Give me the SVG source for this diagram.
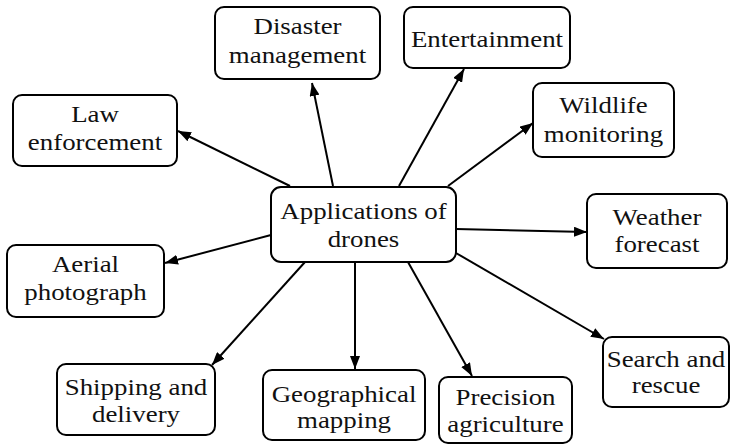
<svg xmlns="http://www.w3.org/2000/svg" width="732" height="445" viewBox="0 0 732 445">
<style>
.box{fill:#fff;stroke:#000;stroke-width:2}
.t{font-family:"Liberation Serif","Times New Roman",serif;font-size:24px;fill:#111;text-anchor:middle}
.c line{stroke:#000;stroke-width:2;marker-end:url(#ah)}
</style>
<defs>
<marker id="ah" markerUnits="userSpaceOnUse" markerWidth="14" markerHeight="10" refX="13" refY="5" orient="auto">
<path d="M0,0 L13,5 L0,10 Z" fill="#000"/>
</marker>
</defs>
<rect width="732" height="445" fill="#fff"/>
<g class="c" id="connectors">
<line x1="290" y1="186" x2="178" y2="131"/>
<line x1="333" y1="186" x2="312" y2="83"/>
<line x1="399" y1="186" x2="464" y2="69"/>
<line x1="448" y1="186" x2="533" y2="123"/>
<line x1="456" y1="229" x2="587" y2="232"/>
<line x1="456" y1="253" x2="604" y2="339"/>
<line x1="408" y1="262" x2="472" y2="376"/>
<line x1="355" y1="262" x2="355" y2="369"/>
<line x1="305" y1="262" x2="212" y2="365"/>
<line x1="271" y1="235" x2="165" y2="263"/>
</g>
<g id="center">
<rect class="box" x="271" y="187" width="185" height="75" rx="10"/>
<text class="t" transform="matrix(1.12 0 0 1 363.5 219)">Applications of</text>
<text class="t" transform="matrix(1.12 0 0 1 363.5 247)">drones</text>
</g>
<g id="law">
<rect class="box" x="13" y="95" width="164" height="71" rx="9"/>
<text class="t" transform="matrix(1.12 0 0 1 95 122)">Law</text>
<text class="t" transform="matrix(1.12 0 0 1 95 150)">enforcement</text>
</g>
<g id="disaster">
<rect class="box" x="215" y="7" width="165" height="72" rx="9"/>
<text class="t" transform="matrix(1.12 0 0 1 297.5 34)">Disaster</text>
<text class="t" transform="matrix(1.12 0 0 1 297.5 63)">management</text>
</g>
<g id="entertainment">
<rect class="box" x="404" y="7" width="166" height="61" rx="9"/>
<text class="t" transform="matrix(1.12 0 0 1 487 47)">Entertainment</text>
</g>
<g id="wildlife">
<rect class="box" x="533" y="83" width="141" height="74" rx="9"/>
<text class="t" transform="matrix(1.12 0 0 1 603.5 113)">Wildlife</text>
<text class="t" transform="matrix(1.12 0 0 1 603.5 142)">monitoring</text>
</g>
<g id="aerial">
<rect class="box" x="7" y="245" width="157" height="72" rx="9"/>
<text class="t" transform="matrix(1.12 0 0 1 85.5 272)">Aerial</text>
<text class="t" transform="matrix(1.12 0 0 1 85.5 300)">photograph</text>
</g>
<g id="weather">
<rect class="box" x="587" y="194" width="140" height="74" rx="9"/>
<text class="t" transform="matrix(1.12 0 0 1 657 225)">Weather</text>
<text class="t" transform="matrix(1.12 0 0 1 657 252)">forecast</text>
</g>
<g id="search">
<rect class="box" x="603" y="337" width="126" height="70" rx="9"/>
<text class="t" transform="matrix(1.12 0 0 1 666 367)">Search and</text>
<text class="t" transform="matrix(1.12 0 0 1 666 393)">rescue</text>
</g>
<g id="shipping">
<rect class="box" x="57" y="364" width="158" height="71" rx="9"/>
<text class="t" transform="matrix(1.12 0 0 1 136 395)">Shipping and</text>
<text class="t" transform="matrix(1.12 0 0 1 136 422)">delivery</text>
</g>
<g id="geographical">
<rect class="box" x="263" y="370" width="162" height="70" rx="9"/>
<text class="t" transform="matrix(1.12 0 0 1 344 402)">Geographical</text>
<text class="t" transform="matrix(1.12 0 0 1 344 428)">mapping</text>
</g>
<g id="precision">
<rect class="box" x="439" y="377" width="133" height="66" rx="9"/>
<text class="t" transform="matrix(1.12 0 0 1 505.5 405)">Precision</text>
<text class="t" transform="matrix(1.12 0 0 1 505.5 432)">agriculture</text>
</g>
</svg>
